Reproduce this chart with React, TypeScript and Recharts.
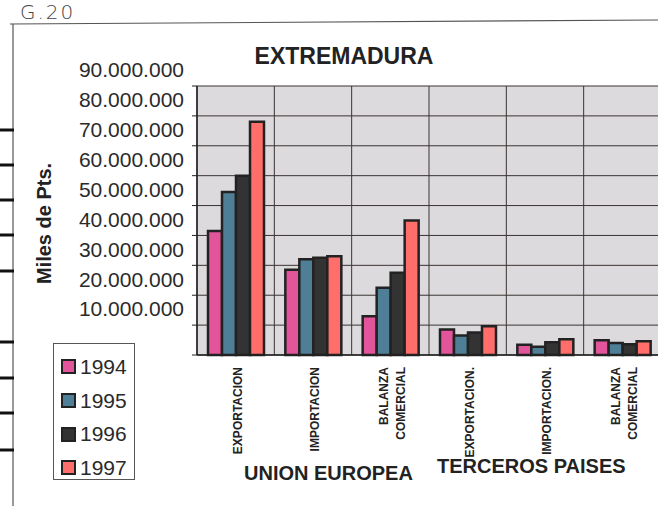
import React from 'react';
import { BarChart, Bar, XAxis, YAxis, CartesianGrid } from 'recharts';

// categories (two groups of three) and the four years
const categories = ['EXPORTACION', 'IMPORTACION', 'BALANZA COMERCIAL', 'EXPORTACION.', 'IMPORTACION.', 'BALANZA COMERCIAL.'];
const categoryLines = [['EXPORTACION'], ['IMPORTACION'], ['BALANZA', 'COMERCIAL'], ['EXPORTACION.'], ['IMPORTACION.'], ['BALANZA', 'COMERCIAL']];
const years = ['1994', '1995', '1996', '1997'];

// miles de pesetas
const v1994 = [41500000, 28500000, 13000000, 8500000, 3400000, 4900000];
const v1995 = [54500000, 32000000, 22500000, 6500000, 2800000, 4000000];
const v1996 = [60000000, 32500000, 27500000, 7500000, 4300000, 3600000];
const v1997 = [78000000, 33000000, 45000000, 9600000, 5300000, 4600000];

const yTicks = [0, 10000000, 20000000, 30000000, 40000000, 50000000, 60000000, 70000000, 80000000, 90000000];

const colors = ['#e2559a', '#4f7e97', '#333333', '#ff6e6a'];
const series = [v1994, v1995, v1996, v1997];

const data = categories.map((cat, i) => {
  const row: any = { cat };
  years.forEach((y, j) => { row[y] = series[j][i]; });
  return row;
});

const font = '"Liberation Sans", Arial, sans-serif';
const fmt = (v: number) => String(v).replace(/\B(?=(\d{3})+(?!\d))/g, '.');

const YTick = (props: any) => {
  const { y, payload } = props;
  if (!payload.value) return null;
  return (
    <text x={184} y={y - 16} dy="0.35em" textAnchor="end" fontSize={21} fontFamily={font} fill="#2a2a2a">
      {fmt(payload.value)}
    </text>
  );
};

const XTick = (props: any) => {
  const { x, y, payload } = props;
  const lines = categoryLines[payload.index] || [payload.value];
  const step = 17;
  return (
    <g>
      {lines.map((l: string, k: number) => {
        const lx = x + (k - (lines.length - 1) / 2) * step + 2;
        return (
          <text key={k} x={lx} y={y + 4} dy="0.35em" textAnchor="end" fontSize={12} fontWeight="bold"
            fontFamily={font} fill="#222" transform={`rotate(-90, ${lx}, ${y + 4})`}>
            {l}
          </text>
        );
      })}
    </g>
  );
};

const YLabel = (props: any) => {
  const vb = props.viewBox || { y: 86, height: 269 };
  const cy = vb.y + vb.height / 2 + 3;
  return (
    <text x={44} y={cy} dy="0.35em" textAnchor="middle" fontSize={20} fontWeight="bold" fontFamily={font}
      fill="#222" transform={`rotate(-90, 44, ${cy})`}>
      Miles de Pts.
    </text>
  );
};

const stubs = [130, 165, 200, 235, 271, 342, 378, 413, 450];

export default function App() {
  return (
    <div style={{ position: 'fixed', left: 0, top: 0, width: 658, height: 506, overflow: 'hidden', background: '#fff', fontFamily: font }}>
      <svg width={658} height={506} style={{ position: 'absolute', left: 0, top: 0 }}>
        <line x1={10} y1={24} x2={658} y2={20} stroke="#555" strokeWidth={1.2} />
        <line x1={13} y1={24} x2={13} y2={506} stroke="#555" strokeWidth={1.2} />
        {stubs.map((s, i) => (
          <line key={i} x1={0} y1={s} x2={14} y2={s} stroke="#111" strokeWidth={3} />
        ))}
        <text x={20} y={19} fontSize={20} fontFamily='"DejaVu Sans", sans-serif' fontWeight={300} fill="#444" letterSpacing={2}>G.20</text>
      </svg>

      <div style={{ position: 'absolute', left: 0, top: 0 }}>
        <BarChart width={670} height={506} data={data} margin={{ top: 86, right: 9, left: 0, bottom: 31 }}
          barCategoryGap={11} barGap={0}>
          <CartesianGrid fill="#dcdadc" stroke="#3b3333" strokeWidth={1}
            verticalCoordinatesGenerator={({ offset }: any) =>
              categories.map((_, i) => offset.left + (i * offset.width) / categories.length)} />
          <XAxis dataKey="cat" interval={0} height={120} tick={<XTick />} tickLine={false}
            axisLine={{ stroke: '#222', strokeWidth: 1.5 }} />
          <YAxis width={197} domain={[0, 90000000]} ticks={yTicks} interval={0} tick={<YTick />}
            tickSize={5} tickLine={{ stroke: '#222' }} axisLine={{ stroke: '#222', strokeWidth: 1.5 }}
            label={<YLabel />} />
          {years.map((y, j) => (
            <Bar key={y} dataKey={y} fill={colors[j]} stroke="#222" strokeWidth={2.5} isAnimationActive={false} />
          ))}
        </BarChart>
      </div>

      <div style={{ position: 'absolute', left: 250, top: 43, width: 188, textAlign: 'center', fontSize: 23, fontWeight: 'bold', color: '#222' }}>
        EXTREMADURA
      </div>

      <div style={{ position: 'absolute', left: 53, top: 343, width: 82, height: 137, border: '1px solid #555', background: '#fff', boxSizing: 'border-box', paddingTop: 6 }}>
        {years.map((y, j) => (
          <div key={y} style={{ display: 'flex', alignItems: 'center', height: 33.7, paddingLeft: 7 }}>
            <div style={{ width: 11, height: 11, background: colors[j], border: '2px solid #222', marginRight: 4 }} />
            <span style={{ fontSize: 21, color: '#2a2a2a' }}>{y}</span>
          </div>
        ))}
      </div>

      <div style={{ position: 'absolute', left: 244, top: 462, fontSize: 20, fontWeight: 'bold', color: '#222' }}>UNION EUROPEA</div>
      <div style={{ position: 'absolute', left: 437, top: 455, fontSize: 20, fontWeight: 'bold', color: '#222' }}>TERCEROS PAISES</div>
    </div>
  );
}
